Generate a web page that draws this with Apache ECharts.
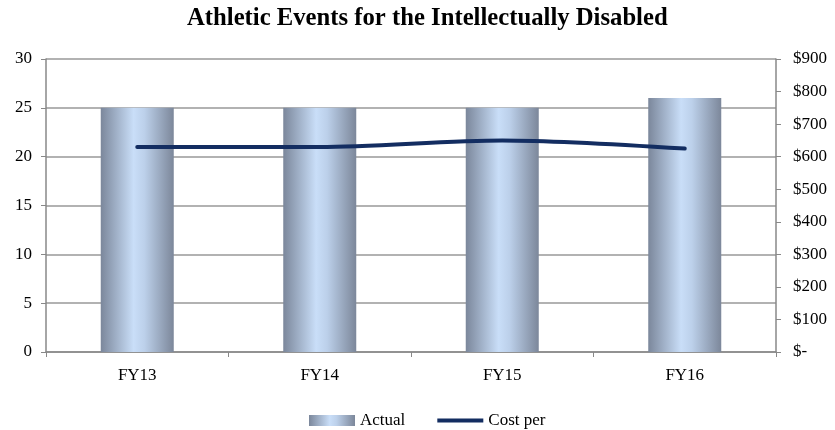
<!DOCTYPE html>
<html><head><meta charset="utf-8">
<script src="https://cdn.jsdelivr.net/npm/echarts@6/dist/echarts.min.js"></script>
<style>html,body{margin:0;padding:0;background:#fff}#c{width:835px;height:430px}</style>
</head><body><div id="c"></div>
<script>
var categories = ['FY13','FY14','FY15','FY16'];
var actual = [25, 25, 25, 26];
var costPer = [630, 630, 650, 625];
var leftTicks = [0,5,10,15,20,25,30];
var rightTicks = [0,100,200,300,400,500,600,700,800,900];

var font = 'Liberation Serif';
var barGrad = new echarts.graphic.LinearGradient(0,0,1,0,[
  {offset:0,color:'#7b879b'},
  {offset:0.45,color:'#c9def8'},
  {offset:0.6,color:'#bcd0ea'},
  {offset:1,color:'#7c879a'}
]);
var chart = echarts.init(document.getElementById('c'), null, {renderer:'canvas'});
chart.setOption({
  animation:false,
  title:{text:'Athletic Events for the Intellectually Disabled',left:182,top:1,
    textStyle:{fontFamily:font,fontSize:24.7,fontWeight:'bold',color:'#000'}},
  grid:{left:46,right:59,top:59,bottom:78},
  legend:{top:407,left:304,itemGap:32,itemWidth:46,itemHeight:11,
    textStyle:{fontFamily:font,fontSize:17,color:'#000'},
    data:[{name:'Actual',icon:'rect'},{name:'Cost per',icon:'path://M0,0 L48,0 L48,4 L0,4 Z'}]},
  xAxis:{type:'category',data:categories,
    axisLine:{lineStyle:{color:'#888',width:1.5}},
    axisTick:{show:true,length:5,lineStyle:{color:'#888'}},
    axisLabel:{fontFamily:font,fontSize:17,color:'#000',margin:15}},
  yAxis:[
    {type:'value',min:0,max:30,interval:5,
     axisLine:{show:true,lineStyle:{color:'#888',width:1.5}},
     axisTick:{show:true,length:5,lineStyle:{color:'#888'}},
     splitLine:{lineStyle:{color:'#999',width:1.5}},
     axisLabel:{fontFamily:font,fontSize:17,color:'#000',margin:14}},
    {type:'value',min:0,max:900,interval:100,position:'right',
     axisLine:{show:true,lineStyle:{color:'#888',width:1.5}},
     axisTick:{show:true,length:5,lineStyle:{color:'#888'}},
     splitLine:{show:false},
     axisLabel:{fontFamily:font,fontSize:17,color:'#000',margin:17,
       formatter:function(v){return v===0?'$-':'$'+v;}}}
  ],
  series:[
    {name:'Actual',type:'bar',data:actual,barWidth:'40%',yAxisIndex:0,
     itemStyle:{color:barGrad}},
    {name:'Cost per',type:'line',data:costPer,yAxisIndex:1,smooth:0.3,
     symbol:'none',lineStyle:{color:'#132d61',width:4,cap:'round'},itemStyle:{color:'#132d61'}}
  ]
});
</script></body></html>
